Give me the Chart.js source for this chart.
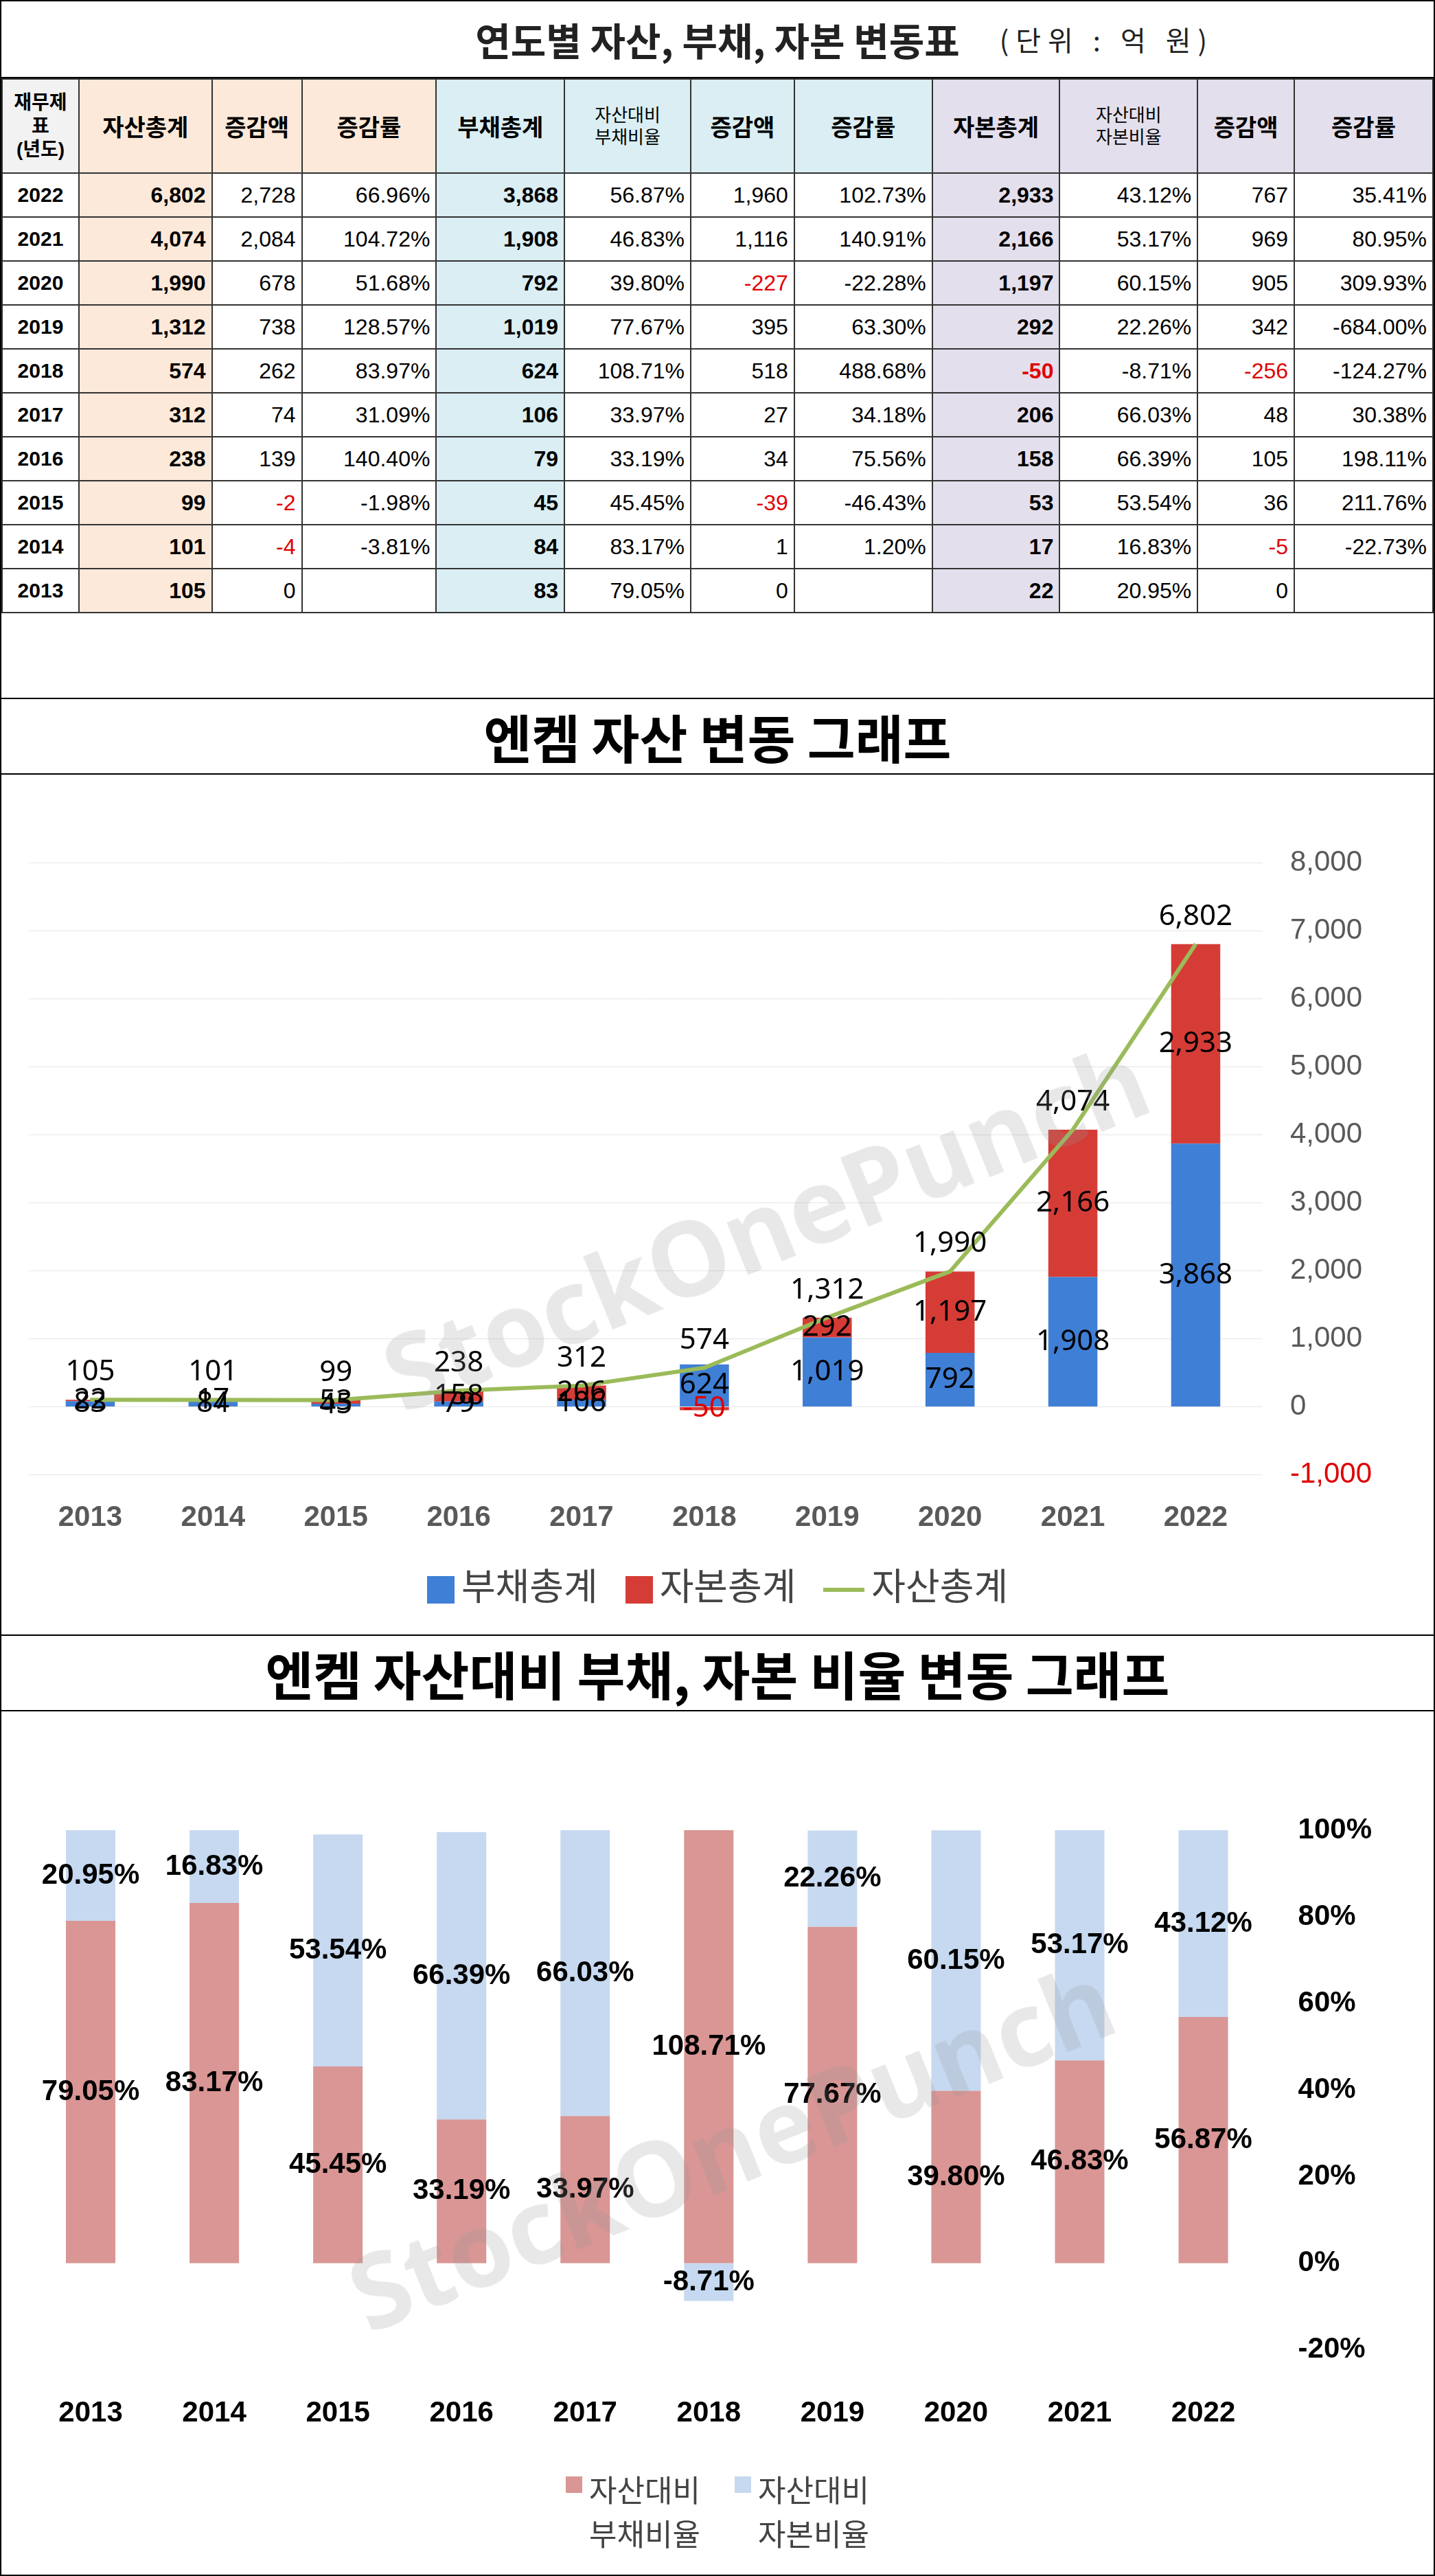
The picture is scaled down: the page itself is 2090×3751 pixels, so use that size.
<!DOCTYPE html>
<html><head><meta charset="utf-8">
<script src="https://cdn.jsdelivr.net/npm/chart.js@4.4.1/dist/chart.umd.min.js"></script>
<style>
body{margin:0;background:#fff;font-family:"Noto Sans CJK KR","Noto Sans",sans-serif;}
#wrap{position:relative;width:2086px;height:3747px;border:2px solid #000;overflow:hidden;}
.title{position:absolute;left:0;width:2086px;border-bottom:2px solid #000;text-align:center;font-weight:bold;color:#222;}
table{position:absolute;left:0;top:112px;border-collapse:collapse;font-family:Arial,"Noto Sans CJK KR",sans-serif;}
td{border:2px solid #333;height:62px;text-align:right;padding:0 8px;font-size:32px;color:#000;}
tr.h td{height:135px;text-align:center;font-weight:bold;font-size:34px;}
td.y{text-align:center;font-weight:bold;font-size:30px;}
.pa{background:#fde9d9}.pd{background:#daeef3}.pe{background:#e4dfec}
.b{font-weight:bold}.neg{color:#e00000}
.sec{position:absolute;left:0;width:2086px;border-top:2px solid #000;}
.wm{position:absolute;font:bold 150px "Open Sans",sans-serif;color:rgba(150,150,150,0.22);transform:rotate(-22deg);white-space:nowrap;pointer-events:none}
.leg{position:absolute;left:0;width:2086px;display:flex;justify-content:center;gap:40px;font-size:54px;color:#444;align-items:center}
.sw{display:inline-block;width:40px;height:40px;margin-right:10px;vertical-align:middle}
</style></head><body>
<div id="wrap">
<div class="title" style="top:0;height:110px;line-height:110px;font-size:56px;">연도별 자산, 부채, 자본 변동표<span style="position:absolute;right:320px;font-size:40px;font-weight:normal;letter-spacing:10px">(단위 : 억 원)</span></div>
<table id="tbl"></table>
<div class="sec" style="top:1014px;height:108px;line-height:108px;text-align:center;font-size:76px;font-weight:bold;border-bottom:2px solid #000">엔켐 자산 변동 그래프</div>
<div style="position:absolute;left:0;top:1124px;width:2086px;height:1140px"><canvas id="c1"></canvas></div>
<div class="leg" style="top:2265px">
<span><span class="sw" style="background:#3f7fd6"></span>부채총계</span>
<span><span class="sw" style="background:#d63c36"></span>자본총계</span>
<span><span style="display:inline-block;width:60px;height:6px;background:#9bbb59;vertical-align:middle;margin-right:10px"></span>자산총계</span>
</div>
<div class="wm" style="left:520px;top:1680px">StockOnePunch</div>
<div class="sec" style="top:2378px;height:108px;line-height:108px;text-align:center;font-size:76px;font-weight:bold;border-bottom:2px solid #000">엔켐 자산대비 부채, 자본 비율 변동 그래프</div>
<div style="position:absolute;left:0;top:2488px;width:2086px;height:1110px"><canvas id="c2"></canvas></div>
<div class="leg" style="top:3590px;font-size:44px;align-items:flex-start;gap:50px">
<span style="display:flex"><span class="sw" style="background:#d99694;width:24px;height:24px;margin-top:14px"></span><span>자산대비<br>부채비율</span></span>
<span style="display:flex"><span class="sw" style="background:#c6d9f0;width:24px;height:24px;margin-top:14px"></span><span>자산대비<br>자본비율</span></span>
</div>
<div class="wm" style="left:470px;top:3020px">StockOnePunch</div>
</div>
<script>
const years = [2022, 2021, 2020, 2019, 2018, 2017, 2016, 2015, 2014, 2013];
const assets = [6802, 4074, 1990, 1312, 574, 312, 238, 99, 101, 105];
const assetChg = [2728, 2084, 678, 738, 262, 74, 139, -2, -4, 0];
const assetRate = [66.96, 104.72, 51.68, 128.57, 83.97, 31.09, 140.40, -1.98, -3.81, null];
const debt = [3868, 1908, 792, 1019, 624, 106, 79, 45, 84, 83];
const debtRatio = [56.87, 46.83, 39.80, 77.67, 108.71, 33.97, 33.19, 45.45, 83.17, 79.05];
const debtChg = [1960, 1116, -227, 395, 518, 27, 34, -39, 1, 0];
const debtRate = [102.73, 140.91, -22.28, 63.30, 488.68, 34.18, 75.56, -46.43, 1.20, null];
const equity = [2933, 2166, 1197, 292, -50, 206, 158, 53, 17, 22];
const equityRatio = [43.12, 53.17, 60.15, 22.26, -8.71, 66.03, 66.39, 53.54, 16.83, 20.95];
const equityChg = [767, 969, 905, 342, -256, 48, 105, 36, -5, 0];
const equityRate = [35.41, 80.95, 309.93, -684.00, -124.27, 30.38, 198.11, 211.76, -22.73, null];
const axis1Ticks = [-1000, 0, 1000, 2000, 3000, 4000, 5000, 6000, 7000, 8000];

const fmt = v => v.toLocaleString('en-US');
const pct = v => v == null ? '' : v.toFixed(2) + '%';
const negCls = v => v < 0 ? ' neg' : '';

// table
const widths = [112, 194, 131, 196, 187, 184, 151, 201, 186, 201, 141, 202];
let html = '<tr class="h"><td style="background:#f2f2f2;font-size:28px;line-height:34px">재무제<br>표<br>(년도)</td>' +
  '<td class="pa">자산총계</td><td class="pa">증감액</td><td class="pa">증감률</td>' +
  '<td class="pd">부채총계</td><td class="pd" style="font-size:26px;font-weight:normal;line-height:32px">자산대비<br>부채비율</td><td class="pd">증감액</td><td class="pd">증감률</td>' +
  '<td class="pe">자본총계</td><td class="pe" style="font-size:26px;font-weight:normal;line-height:32px">자산대비<br>자본비율</td><td class="pe">증감액</td><td class="pe">증감률</td></tr>';
years.forEach((y, i) => {
  html += '<tr><td class="y">' + y + '</td>' +
    '<td class="pa b">' + fmt(assets[i]) + '</td><td class="' + negCls(assetChg[i]) + '">' + fmt(assetChg[i]) + '</td><td>' + pct(assetRate[i]) + '</td>' +
    '<td class="pd b">' + fmt(debt[i]) + '</td><td>' + pct(debtRatio[i]) + '</td><td class="' + negCls(debtChg[i]) + '">' + fmt(debtChg[i]) + '</td><td>' + pct(debtRate[i]) + '</td>' +
    '<td class="pe b' + negCls(equity[i]) + '">' + fmt(equity[i]) + '</td><td>' + pct(equityRatio[i]) + '</td><td class="' + negCls(equityChg[i]) + '">' + fmt(equityChg[i]) + '</td><td>' + pct(equityRate[i]) + '</td></tr>';
});
const tbl = document.getElementById('tbl');
tbl.innerHTML = '<colgroup>' + widths.map(w => '<col style="width:' + w + 'px">').join('') + '</colgroup>' + html;

const labels = years.slice().reverse();
const rev = a => a.slice().reverse();

// draws value labels on each element
const valueLabels = {
  id: 'valueLabels',
  afterDatasetsDraw(chart) {
    const ctx = chart.ctx, area = chart.chartArea;
    chart.data.datasets.forEach((ds, di) => {
      const meta = chart.getDatasetMeta(di);
      meta.data.forEach((el, i) => {
        const v = ds.data[i];
        let y;
        if (ds.type === 'line') y = el.y - 40;
        else {
          const top = Math.max(Math.min(el.y, el.base), area.top);
          const bot = Math.min(Math.max(el.y, el.base), area.bottom);
          y = (top + bot) / 2;
        }
        ctx.save();
        ctx.font = ds.labelFont;
        ctx.fillStyle = v < 0 && chart.canvas.id === 'c1' ? '#e00000' : '#000';
        ctx.textAlign = 'center';
        ctx.textBaseline = 'middle';
        ctx.fillText(ds.labelFmt(v), el.x, y);
        ctx.restore();
      });
    });
  }
};

Chart.defaults.font.family = "'Noto Sans CJK KR','Noto Sans',sans-serif";

new Chart(document.getElementById('c1'), {
  data: {
    labels: labels,
    datasets: [
      { type: 'line', label: '자산총계', data: rev(assets), borderColor: '#9bbb59', borderWidth: 6, pointRadius: 0, stack: 'L', tension: 0, labelFont: '42px "Noto Sans"', labelFmt: fmt },
      { type: 'bar', label: '부채총계', data: rev(debt), backgroundColor: '#3f7fd6', stack: 'S', barPercentage: 0.5, labelFont: '42px "Noto Sans"', labelFmt: fmt },
      { type: 'bar', label: '자본총계', data: rev(equity), backgroundColor: '#d63c36', stack: 'S', barPercentage: 0.5, labelFont: '42px "Noto Sans"', labelFmt: fmt }
    ]
  },
  options: {
    responsive: true, maintainAspectRatio: false, animation: false,
    layout: { padding: { top: 130, left: 40, right: 50, bottom: 0 } },
    plugins: { legend: { display: false }, tooltip: { enabled: false } },
    scales: {
      x: { stacked: true, grid: { display: false }, border: { display: false },
        ticks: { color: '#595959', font: { size: 42, weight: 'bold', family: 'Arial' }, padding: 30 } },
      y: { stacked: true, position: 'right', min: -1000, max: 8000,
        afterBuildTicks: s => { s.ticks = axis1Ticks.map(v => ({ value: v })); },
        grid: { color: '#e6e6e6' }, border: { display: false },
        ticks: { padding: 40, font: { size: 42, family: 'Arial' }, color: c => c.tick.value < 0 ? '#e00000' : '#595959', callback: v => fmt(v) } }
    }
  },
  plugins: [valueLabels]
});

new Chart(document.getElementById('c2'), {
  type: 'bar',
  data: {
    labels: labels,
    datasets: [
      { label: '자산대비 부채비율', data: rev(debtRatio), backgroundColor: '#d99694', barPercentage: 0.5, labelFont: 'bold 42px Arial', labelFmt: pct },
      { label: '자산대비 자본비율', data: rev(equityRatio), backgroundColor: '#c6d9f0', barPercentage: 0.5, labelFont: 'bold 42px Arial', labelFmt: pct }
    ]
  },
  options: {
    responsive: true, maintainAspectRatio: false, animation: false,
    layout: { padding: { top: 175, left: 40, right: 50 } },
    plugins: { legend: { display: false }, tooltip: { enabled: false } },
    scales: {
      x: { stacked: true, grid: { display: false }, border: { display: false },
        ticks: { color: '#000', font: { size: 42, weight: 'bold', family: 'Arial' }, padding: 60 } },
      y: { stacked: true, position: 'right', min: -20, max: 100,
        grid: { display: false }, border: { display: false },
        ticks: { stepSize: 20, padding: 40, color: '#000', font: { size: 42, weight: 'bold', family: 'Arial' }, callback: v => v + '%' } }
    }
  },
  plugins: [valueLabels]
});
</script>
</body></html>
